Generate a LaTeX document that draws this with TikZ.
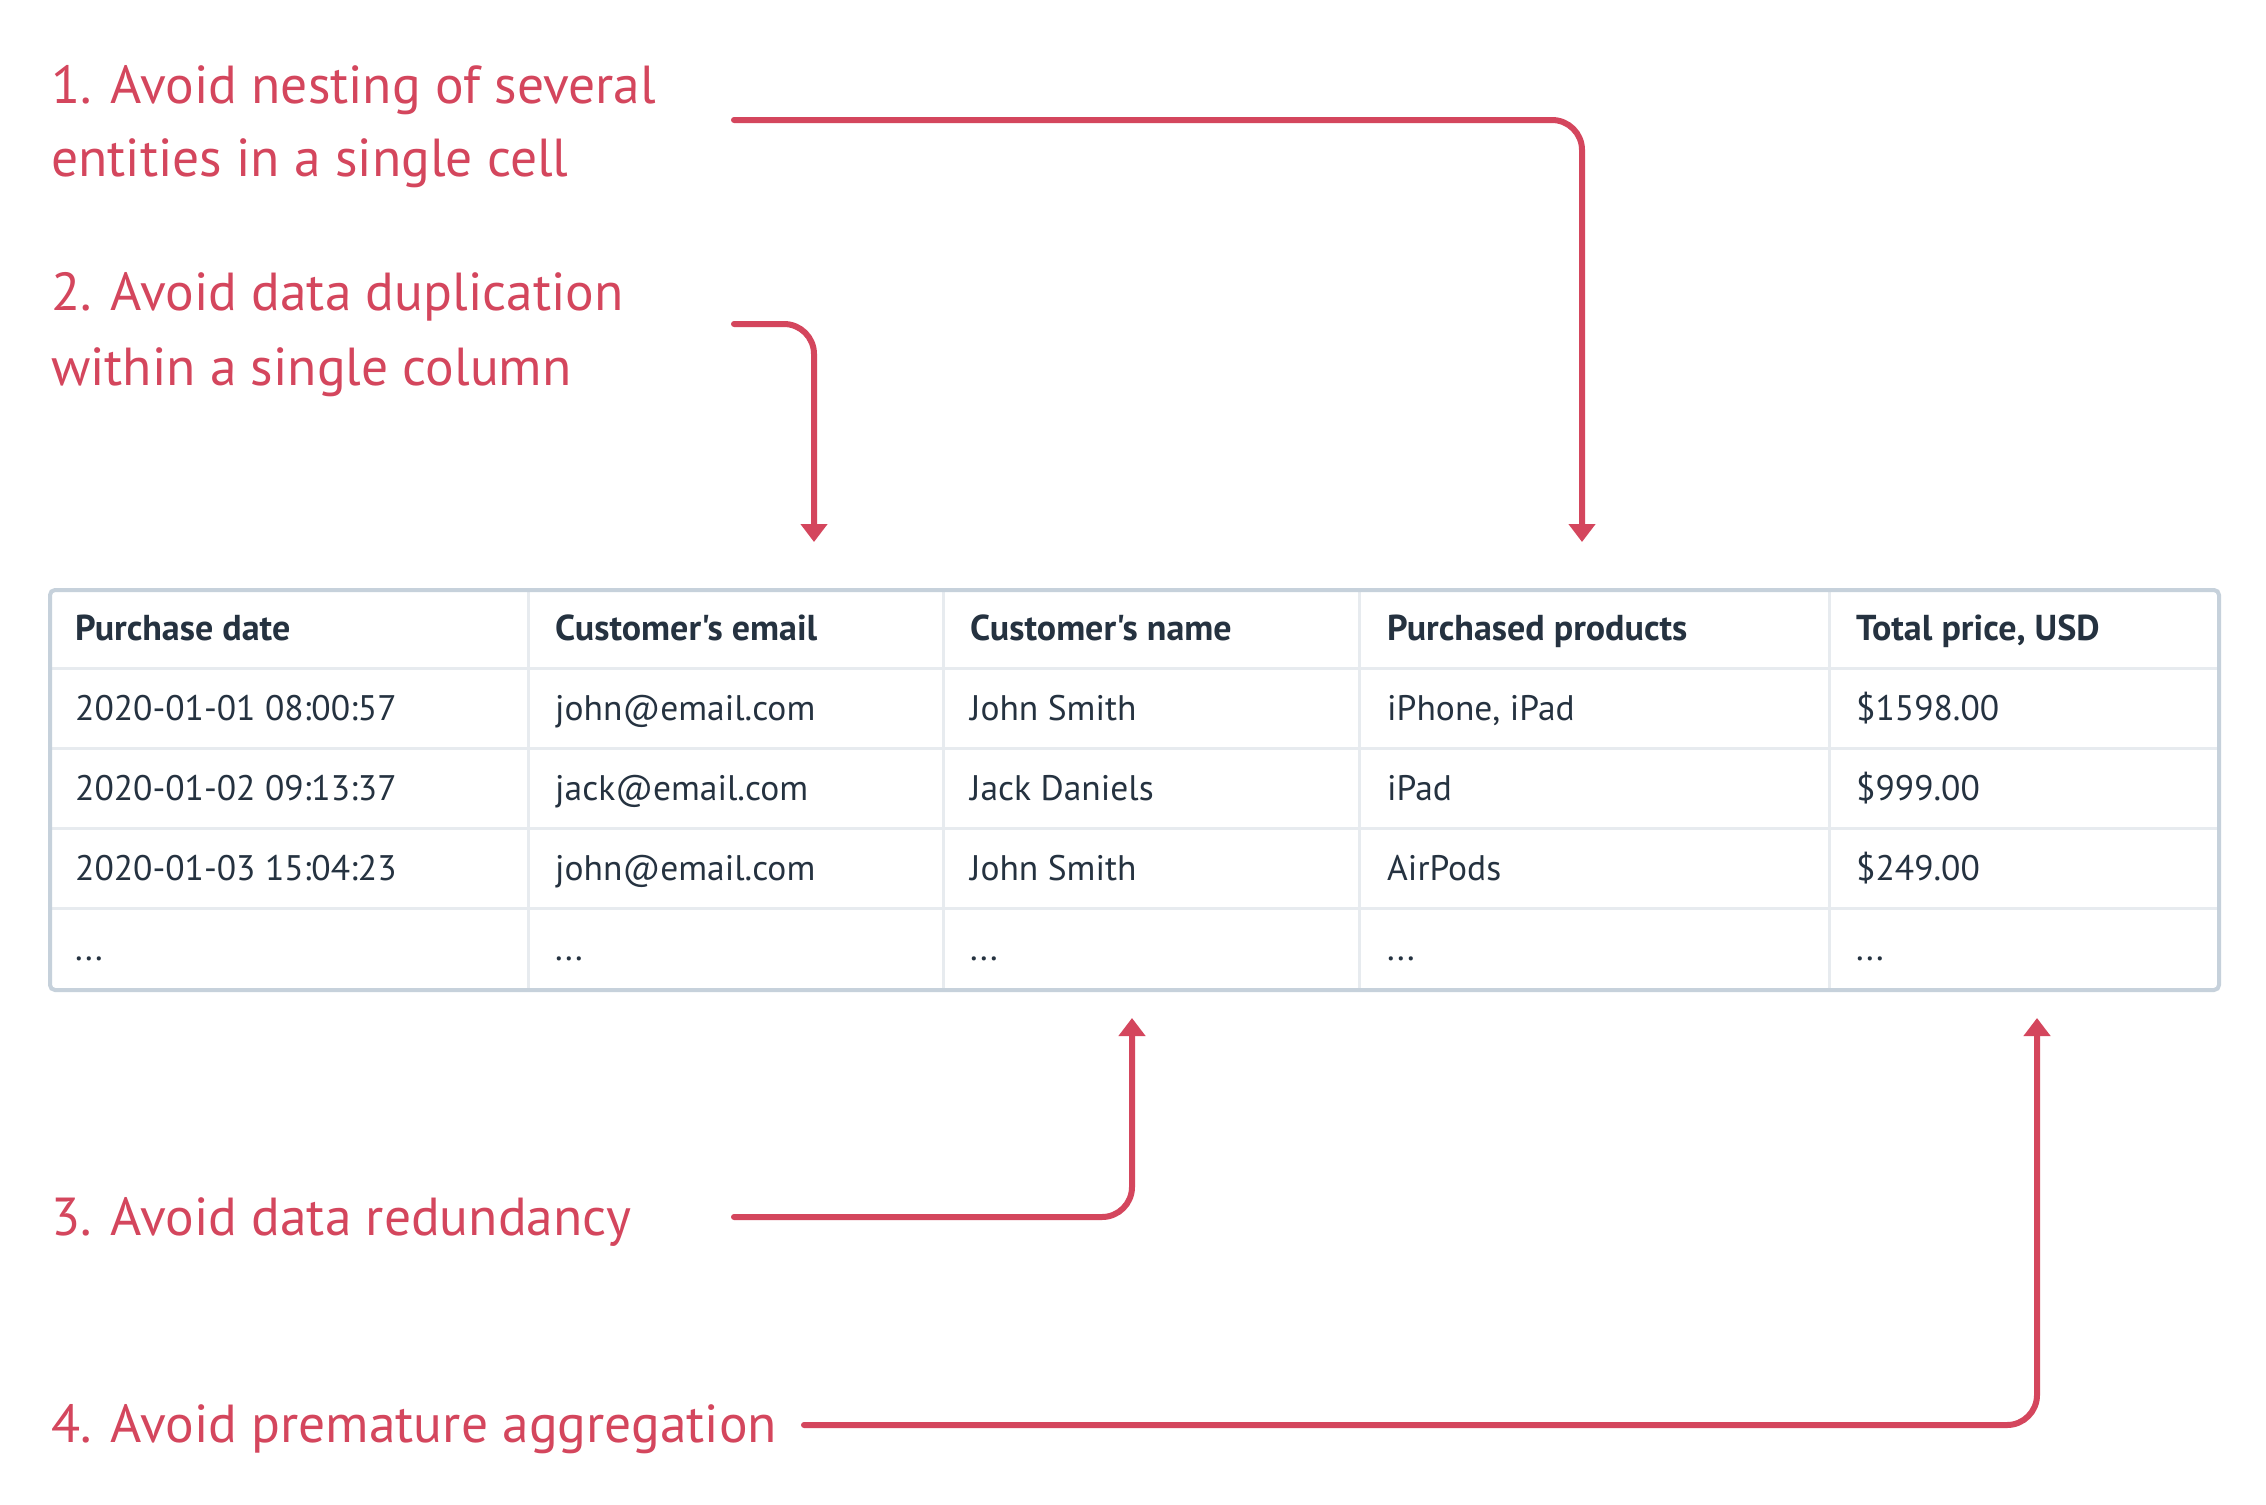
\documentclass[tikz,border=0pt]{standalone}
\usepackage{fontspec}
\setmainfont{PT Sans}[Ligatures=TeXOff]
\usetikzlibrary{arrows.meta}
\definecolor{accent}{HTML}{D4465D}
\definecolor{ink}{HTML}{253240}
\definecolor{outerline}{HTML}{C6D1DB}
\definecolor{innerline}{HTML}{E7EBEF}
\begin{document}
\begin{tikzpicture}[x=1pt,y=-1pt,
  lbl/.style={font=\fontsize{53.5}{64}\selectfont, text=accent, inner sep=0pt, anchor=base west},
  hdr/.style={font=\bfseries\fontsize{36}{42}\selectfont, text=ink, inner sep=0pt, anchor=base west},
  cell/.style={font=\fontsize{35.5}{42}\selectfont, text=ink, inner sep=0pt, anchor=base west},
  conn/.style={draw=accent, line width=6pt, line cap=round, rounded corners=30pt,
    -{Triangle[width=26pt,length=18pt]}},
  tablebox/.style={draw=outerline, line width=4pt, rounded corners=5pt, inner sep=0pt,
    minimum width=2169pt, minimum height=400pt, anchor=north west},
  grid/.style={draw=innerline, line width=3pt}]
\useasboundingbox[fill=white] (0,0) rectangle (2266,1504);

% labels
\node[lbl] (l1a) at (51,103) {1. Avoid nesting of several};
\node[lbl] (l1b) at (51,176) {entities in a single cell};
\node[lbl] (l2a) at (51,310) {2. Avoid data duplication};
\node[lbl] (l2b) at (51,385) {within a single column};
\node[lbl] (l3) at (51,1235) {3. Avoid data redundancy};
\node[lbl] (l4) at (51,1442) {4. Avoid premature aggregation};

% table grid
\foreach \yy in {668,748,828,908} \draw[grid] (48,\yy) -- (2217,\yy);
\foreach \xx in {528,943,1359,1829} \draw[grid] (\xx,588) -- (\xx,988);
\node[tablebox] (tbl) at (48,588) {};

% header
\node[hdr] (h1) at (75,640) {Purchase date};
\node[hdr] (h2) at (555,640) {Customer's email};
\node[hdr] (h3) at (970,640) {Customer's name};
\node[hdr] (h4) at (1387,640) {Purchased products};
\node[hdr] (h5) at (1856,640) {Total price, USD};
% rows
\node[cell] (r1c1) at (75,720) {2020-01-01 08:00:57};
\node[cell] (r1c2) at (555,720) {john@email.com};
\node[cell] (r1c3) at (970,720) {John Smith};
\node[cell] (r1c4) at (1387,720) {iPhone, iPad};
\node[cell] (r1c5) at (1856,720) {\$1598.00};
\node[cell] (r2c1) at (75,800) {2020-01-02 09:13:37};
\node[cell] (r2c2) at (555,800) {jack@email.com};
\node[cell] (r2c3) at (970,800) {Jack Daniels};
\node[cell] (r2c4) at (1387,800) {iPad};
\node[cell] (r2c5) at (1856,800) {\$999.00};
\node[cell] (r3c1) at (75,880) {2020-01-03 15:04:23};
\node[cell] (r3c2) at (555,880) {john@email.com};
\node[cell] (r3c3) at (970,880) {John Smith};
\node[cell] (r3c4) at (1387,880) {AirPods};
\node[cell] (r3c5) at (1856,880) {\$249.00};
\node[cell] (r4c1) at (75,960) {...};
\node[cell] (r4c2) at (555,960) {...};
\node[cell] (r4c3) at (970,960) {...};
\node[cell] (r4c4) at (1387,960) {...};
\node[cell] (r4c5) at (1856,960) {...};

% connectors
\coordinate (s1) at (734,120);  \coordinate (t1) at (1582,542);
\coordinate (s2) at (734,324);  \coordinate (t2) at (814,542);
\coordinate (s3) at (734,1217); \coordinate (t3) at (1132,1018);
\coordinate (s4) at (804,1425); \coordinate (t4) at (2037,1018);
\draw[conn] (s1) -| (t1);
\draw[conn] (s2) -| (t2);
\draw[conn] (s3) -| (t3);
\draw[conn] (s4) -| (t4);
\end{tikzpicture}
\end{document}
